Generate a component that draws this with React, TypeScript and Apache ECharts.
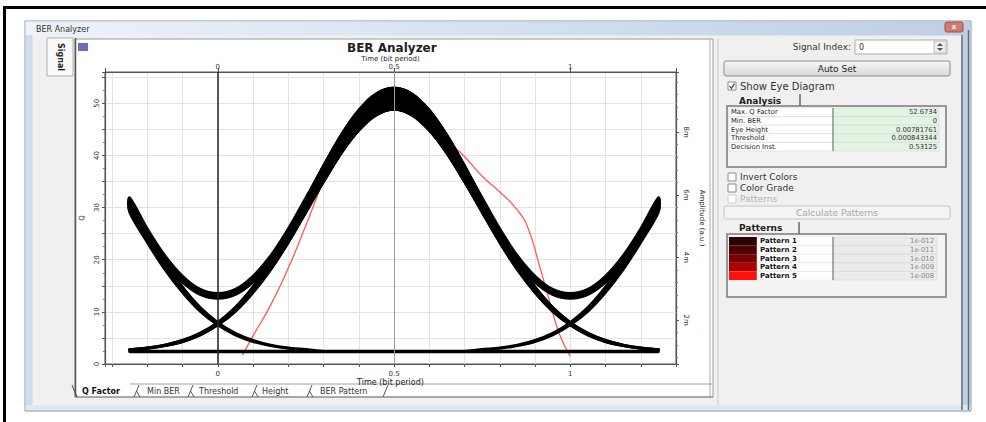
import React, { useEffect, useRef } from "react";
import * as echarts from "echarts";

// ---------- data ----------
const eyeTime = [-0.25, -0.2, -0.15, -0.1, -0.05, 0, 0.05, 0.1, 0.15, 0.2, 0.25, 0.3, 0.35, 0.4, 0.45, 0.5, 0.55, 0.6, 0.65, 0.7, 0.75, 0.8, 0.85, 0.9, 0.95, 1, 1.05, 1.1, 1.15, 1.2, 1.25];

// eye traces (amplitude, right axis); "Hi" = upper edge of band, "Lo" = lower edge
const eye000 = [1, 1, 1, 1, 1, 1, 1, 1, 1, 1, 1, 1, 1, 1, 1, 1, 1, 1, 1, 1, 1, 1, 1, 1, 1, 1, 1, 1, 1, 1, 1];
const eye010Hi = [1.06, 1.11, 1.2, 1.35, 1.58, 1.92, 2.4, 3.05, 3.85, 4.8, 5.84, 6.91, 7.89, 8.69, 9.22, 9.4, 9.22, 8.69, 7.89, 6.91, 5.84, 4.8, 3.85, 3.05, 2.4, 1.92, 1.58, 1.35, 1.2, 1.11, 1.06];
const eye010Lo = [1.05, 1.1, 1.19, 1.32, 1.53, 1.85, 2.29, 2.89, 3.62, 4.49, 5.45, 6.43, 7.34, 8.07, 8.56, 8.73, 8.56, 8.07, 7.34, 6.43, 5.45, 4.49, 3.62, 2.89, 2.29, 1.85, 1.53, 1.32, 1.19, 1.1, 1.05];
const eye110Hi = [5.9, 4.91, 4.05, 3.4, 2.98, 2.85, 2.98, 3.4, 4.05, 4.91, 5.9, 6.91, 7.89, 8.69, 9.22, 9.4, 9.22, 8.69, 7.89, 6.91, 5.84, 4.8, 3.85, 3.05, 2.4, 1.92, 1.58, 1.35, 1.2, 1.11, 1.06];
const eye110Lo = [5.51, 4.59, 3.81, 3.21, 2.82, 2.7, 2.82, 3.21, 3.81, 4.59, 5.51, 6.43, 7.34, 8.07, 8.56, 8.73, 8.56, 8.07, 7.34, 6.43, 5.45, 4.49, 3.62, 2.89, 2.29, 1.85, 1.53, 1.32, 1.19, 1.1, 1.05];
const eye011Hi = [1.06, 1.11, 1.2, 1.35, 1.58, 1.92, 2.4, 3.05, 3.85, 4.8, 5.84, 6.91, 7.89, 8.69, 9.22, 9.4, 9.22, 8.69, 7.89, 6.91, 5.9, 4.91, 4.05, 3.4, 2.98, 2.85, 2.98, 3.4, 4.05, 4.91, 5.9];
const eye011Lo = [1.05, 1.1, 1.19, 1.32, 1.53, 1.85, 2.29, 2.89, 3.62, 4.49, 5.45, 6.43, 7.34, 8.07, 8.56, 8.73, 8.56, 8.07, 7.34, 6.43, 5.51, 4.59, 3.81, 3.21, 2.82, 2.7, 2.82, 3.21, 3.81, 4.59, 5.51];
const eye100Hi = [5.84, 4.8, 3.85, 3.05, 2.4, 1.92, 1.58, 1.35, 1.2, 1.11, 1.06, 1, 1, 1, 1, 1, 1, 1, 1, 1, 1, 1, 1, 1, 1, 1, 1, 1, 1, 1, 1];
const eye100Lo = [5.45, 4.49, 3.62, 2.89, 2.29, 1.85, 1.53, 1.32, 1.19, 1.1, 1.05, 1, 1, 1, 1, 1, 1, 1, 1, 1, 1, 1, 1, 1, 1, 1, 1, 1, 1, 1, 1];
const eye001Hi = [1, 1, 1, 1, 1, 1, 1, 1, 1, 1, 1, 1, 1, 1, 1, 1, 1, 1, 1, 1, 1.06, 1.11, 1.2, 1.35, 1.58, 1.92, 2.4, 3.05, 3.85, 4.8, 5.84];
const eye001Lo = [1, 1, 1, 1, 1, 1, 1, 1, 1, 1, 1, 1, 1, 1, 1, 1, 1, 1, 1, 1, 1.05, 1.1, 1.19, 1.32, 1.53, 1.85, 2.29, 2.89, 3.62, 4.49, 5.45];

// Q factor curve (left axis)
const qTime = [0.07, 0.1, 0.15, 0.2, 0.25, 0.3, 0.35, 0.4, 0.45, 0.5, 0.55, 0.6, 0.65, 0.7, 0.75, 0.8, 0.85, 0.88, 0.91, 0.94, 0.97, 1.0];
const qValue = [1.7, 5.4, 11.3, 18.4, 26.6, 35.2, 42.9, 48.7, 51.9, 52.67, 51.0, 47.5, 43.0, 39.8, 36.0, 33.0, 29.5, 26.1, 19.5, 12.3, 5.6, 1.5];

const markerTimes = [0, 0.5];
const timeTickLabels = [0, 0.5, 1];
const qTickLabels = [0, 10, 20, 30, 40, 50];
const ampTickLabels = [2, 4, 6, 8];

const analysisLabels = ["Max. Q Factor", "Min. BER", "Eye Height", "Threshold", "Decision Inst."];
const analysisValues = ["52.6734", "0", "0.00781761", "0.000843344", "0.53125"];
const patternNames = ["Pattern 1", "Pattern 2", "Pattern 3", "Pattern 4", "Pattern 5"];
const patternValues = ["1e-012", "1e-011", "1e-010", "1e-009", "1e-008"];
const patternColors = ["#2a0000", "#4c0000", "#780000", "#b00000", "#ff1010"];
const bottomTabs = ["Q Factor", "Min BER", "Threshold", "Height", "BER Pattern"];

const FF = '"DejaVu Sans", sans-serif';

const rect = (x: number, y: number, w: number, h: number, fill: any, stroke: any = null, lw = 1, z = -5, r = 0) => ({
  type: "rect", silent: true, z,
  shape: { x, y, width: w, height: h, r },
  style: { fill, stroke, lineWidth: lw },
});
const line = (x1: number, y1: number, x2: number, y2: number, stroke: string, lw = 1, z = -4) => ({
  type: "line", silent: true, z,
  shape: { x1, y1, x2, y2 },
  style: { stroke, lineWidth: lw },
});
const poly = (points: number[][], stroke: string, lw = 1, z = 5) => ({
  type: "polyline", silent: true, z,
  shape: { points },
  style: { stroke, lineWidth: lw, fill: null },
});
const txt = (x: number, y: number, t: string, o: any = {}) => ({
  type: "text", silent: true, z: o.z ?? 10, x, y, rotation: o.rot || 0,
  style: {
    text: t,
    fill: o.fill || "#222",
    font: `${o.bold ? "bold " : ""}${o.size || 8}px ${FF}`,
    textAlign: o.align || "left",
    align: o.align || "left",
    textVerticalAlign: "middle",
    verticalAlign: "middle",
  },
});

function buildGraphics() {
  const g: any[] = [];
  // outer black frame
  g.push(rect(3, 6, 983, 3, "#000", null, 1, -20));
  g.push(rect(3, 6, 3, 416, "#000", null, 1, -20));
  // window
  g.push(rect(25, 21, 946, 390, "#f0f0f0", "#8494a8", 1, -19));
  g.push(rect(25.5, 21.5, 945, 14, new echarts.graphic.LinearGradient(0, 0, 1, 0, [
    { offset: 0, color: "#eef3f9" }, { offset: 1, color: "#bccfe6" },
  ]), null, 1, -18));
  g.push(txt(36, 29, "BER Analyzer", { size: 8, fill: "#333" }));
  g.push(rect(945, 22, 18, 10, "#d07a72", "#a05048", 1, -17, 2));
  g.push(txt(954, 27, "x", { size: 7, fill: "#fff", align: "center", bold: true }));
  g.push(rect(25.5, 35, 7, 375, "#cfdcec", null, 1, -18));
  g.push(rect(962, 35, 8, 375, "#c3d0e0", null, 1, -18));
  g.push(line(962, 35, 962, 410, "#5f6d82", 1.5, -17));
  g.push(line(968.5, 30, 968.5, 410, "#5f6d82", 1.5, -17));
  g.push(rect(25.5, 405, 945, 5, "#dfe7f1", null, 1, -18));
  // left vertical tab
  g.push(rect(47, 38, 26, 38, "#fafafa", "#b0b0b0", 1, -16));
  g.push(txt(60, 57, "Signal", { size: 8, bold: true, rot: -Math.PI / 2, align: "center" }));
  // plot panel
  g.push(rect(75, 39, 638, 358, "#ffffff", "#9a9a9a", 1, -15));
  g.push(line(75.5, 38, 75.5, 397, "#555", 1.5, -14));
  g.push(line(710, 39, 710, 397, "#a8a8a8", 1, -14));
  g.push(rect(78, 43, 10, 8, "#6b6fc4", null, 1, -14));
  // bottom tabs
  g.push(line(130, 384, 712, 384, "#a0a0a0", 1, -14));
  g.push(line(75, 397, 713, 397, "#888", 1, -14));
  g.push(poly([[72, 385], [77, 397]], "#444", 1));
  const tabX = [82, 147, 199, 262, 320];
  const sepX = [137, 191, 255, 310, 386];
  bottomTabs.forEach((t, i) => {
    g.push(txt(tabX[i], 391, t, { size: 8, bold: i === 0, fill: i === 0 ? "#111" : "#333" }));
  });
  sepX.forEach((x, i) => {
    g.push(poly([[x - 3, 397], [x + 2, 385]], "#555", 1));
    if (i < sepX.length - 1) g.push(poly([[x - 0.5, 391], [x + 3, 397]], "#555", 1));
  });
  // right panel
  g.push(line(718, 38, 718, 405, "#c8c8c8", 1, -14));
  g.push(txt(851, 47, "Signal Index:", { size: 9, align: "right", fill: "#333" }));
  g.push(rect(855, 40, 92, 14, "#fff", "#abadb3", 1, -12));
  g.push(txt(859, 47, "0", { size: 8, fill: "#333" }));
  g.push(rect(934, 41, 12, 12, "#ececec", "#c0c0c0", 1, -11));
  g.push({ type: "polygon", silent: true, z: 5, shape: { points: [[937, 46], [943, 46], [940, 43]] }, style: { fill: "#555" } });
  g.push({ type: "polygon", silent: true, z: 5, shape: { points: [[937, 48], [943, 48], [940, 51]] }, style: { fill: "#555" } });
  g.push(rect(724, 61, 226, 15, new echarts.graphic.LinearGradient(0, 0, 0, 1, [
    { offset: 0, color: "#f7f7f7" }, { offset: 1, color: "#d9d9d9" },
  ]), "#8c8c8c", 1, -12, 2));
  g.push(txt(837, 68.5, "Auto Set", { size: 9, align: "center" }));
  // show eye diagram checkbox
  g.push(rect(728, 82, 8, 8, "#fff", "#8a8a8a", 1, -11));
  g.push(poly([[729.5, 86], [731.5, 88.5], [734.5, 83.5]], "#333", 1.2));
  g.push(txt(740, 86.5, "Show Eye Diagram", { size: 10, fill: "#333" }));
  // analysis tab and table
  g.push(txt(739, 100.5, "Analysis", { size: 9, bold: true }));
  g.push(line(800, 94, 800, 106, "#666", 1.5, -11));
  g.push(rect(727, 106, 219, 61, "#f3f3f3", "#7a7a7a", 1.5, -12));
  const rowH = 8.6;
  analysisLabels.forEach((lab, i) => {
    const y = 108 + i * rowH;
    g.push(rect(729, y, 104, rowH, "#fff", "#d0d0d0", 0.5, -11));
    g.push(rect(833, y, 106, rowH, "#e3f4e3", "#d0d0d0", 0.5, -11));
    g.push(txt(731, y + rowH / 2, lab, { size: 6.8, fill: "#222" }));
    g.push(txt(937, y + rowH / 2, analysisValues[i], { size: 6.8, align: "right", fill: "#333" }));
  });
  g.push(line(833, 108, 833, 108 + 5 * rowH, "#666", 1, -10));
  // other checkboxes
  const cb = ["Invert Colors", "Color Grade", "Patterns"];
  cb.forEach((t, i) => {
    const y = 177 + i * 11;
    const dis = i === 2;
    g.push(rect(728, y - 4, 8, 8, "#fff", dis ? "#cfcfcf" : "#8a8a8a", 1, -11));
    g.push(txt(740, y, t, { size: 9, fill: dis ? "#b0b0b0" : "#333" }));
  });
  g.push(rect(724, 206, 226, 13, "#f4f4f4", "#c4c4c4", 1, -12, 2));
  g.push(txt(837, 212.5, "Calculate Patterns", { size: 9, align: "center", fill: "#a8a8a8" }));
  // patterns tab/table
  g.push(txt(739, 228, "Patterns", { size: 9, bold: true }));
  g.push(line(799, 222, 799, 234, "#666", 1.5, -11));
  g.push(rect(727, 234, 219, 63, "#f3f3f3", "#7a7a7a", 1.5, -12));
  patternNames.forEach((n, i) => {
    const y = 237 + i * 8.6;
    g.push(rect(729, y, 28, 8.6, patternColors[i], null, 1, -11));
    g.push(rect(757, y, 76, 8.6, "#fff", "#e0e0e0", 0.5, -11));
    g.push(rect(833, y, 104, 8.6, "#ebebeb", "#d0d0d0", 0.5, -11));
    g.push(txt(760, y + 4.4, n, { size: 7, bold: true, fill: "#111" }));
    g.push(txt(934, y + 4.4, patternValues[i], { size: 6.8, align: "right", fill: "#8a8a8a" }));
  });
  g.push(line(833, 237, 833, 280, "#666", 1, -10));
  return g;
}

const near = (arr: number[], v: number) => arr.find((a) => Math.abs(a - v) < 1e-6);

export default function App() {
  const ref = useRef<HTMLDivElement>(null);
  useEffect(() => {
    if (!ref.current) return;
    const chart = echarts.init(ref.current, undefined, { renderer: "svg" });

    const bands = [
      { k: "010", hi: eye010Hi, lo: eye010Lo },
      { k: "110", hi: eye110Hi, lo: eye110Lo },
      { k: "011", hi: eye011Hi, lo: eye011Lo },
      { k: "100", hi: eye100Hi, lo: eye100Lo },
      { k: "001", hi: eye001Hi, lo: eye001Lo },
    ];
    const eyeSeries: any[] = [];
    eyeSeries.push({
      type: "line", name: "eye000", xAxisIndex: 0, yAxisIndex: 1, silent: true, z: 4,
      data: eyeTime.map((t, i) => [t, eye000[i]]), showSymbol: false, symbol: "none",
      lineStyle: { color: "#000", width: 3.5 },
    });
    bands.forEach((b) => {
      eyeSeries.push({
        type: "custom", name: `eye${b.k}`, coordinateSystem: "cartesian2d", xAxisIndex: 0, yAxisIndex: 1,
        silent: true, z: 4,
        data: eyeTime.map((t, i) => [t, b.hi[i], b.lo[i]]),
        encode: { x: 0, y: [1, 2] },
        renderItem: (params: any, api: any) => {
          if (params.dataIndexInside !== 0) return { type: "group", children: [] };
          const n = eyeTime.length;
          const top: number[][] = [];
          const bot: number[][] = [];
          for (let i = 0; i < n; i++) {
            top.push(api.coord([api.value(0, i), api.value(1, i)]));
            bot.push(api.coord([api.value(0, i), api.value(2, i)]));
          }
          return {
            type: "polygon",
            shape: { points: top.concat(bot.reverse()), smooth: 0.3 },
            style: { fill: "#000", stroke: "#000", lineWidth: 3, lineJoin: "round" },
          };
        },
      });
    });

    const axisFont = { fontFamily: FF, fontSize: 7, color: "#333" };
    const timeFmt = (v: number) => {
      const m = near(timeTickLabels, v);
      return m === undefined ? "" : String(m);
    };

    chart.setOption({
      animation: false,
      textStyle: { fontFamily: FF },
      graphic: { elements: buildGraphics() },
      title: {
        text: "BER Analyzer", left: 347, top: 42, padding: 0,
        textStyle: { fontFamily: FF, fontSize: 12, fontWeight: "bold", color: "#222" },
      },
      grid: {
        left: 105, right: 310, top: 72, bottom: 58, show: true, containLabel: false,
        backgroundColor: "#fff", borderColor: "#555", borderWidth: 1,
      },
      xAxis: [
        {
          type: "value", position: "bottom", min: -0.32, max: 1.3, splitNumber: 16, minInterval: 0.1, maxInterval: 0.1,
          axisLine: { show: true, onZero: false, lineStyle: { color: "#555", width: 1.2 } },
          axisTick: { show: true, length: 3, lineStyle: { color: "#555" } },
          axisLabel: { ...axisFont, margin: 6, formatter: timeFmt },
          splitLine: { show: true, lineStyle: { color: "#e3e3e3", width: 1 } },
          name: "Time (bit period)", nameLocation: "middle", nameGap: 14, nameMoveOverlap: false,
          nameTextStyle: { fontFamily: FF, fontSize: 8, color: "#222" },
        },
        {
          type: "value", position: "top", min: -0.32, max: 1.3, minInterval: 0.5, maxInterval: 0.5,
          axisLine: { show: true, onZero: false, lineStyle: { color: "#555", width: 1.2 } },
          axisTick: { show: true, length: 4, lineStyle: { color: "#555" } },
          axisLabel: { ...axisFont, margin: 2, formatter: timeFmt },
          splitLine: { show: false },
          name: "Time (bit period)", nameLocation: "middle", nameGap: 10, nameMoveOverlap: false,
          nameTextStyle: { fontFamily: FF, fontSize: 7, color: "#222" },
        },
      ],
      yAxis: [
        {
          type: "value", position: "left", min: 0, max: 56, interval: 5,
          axisLine: { show: true, onZero: false, lineStyle: { color: "#555", width: 1.2 } },
          axisTick: { show: true, length: 3, lineStyle: { color: "#555" } },
          minorTick: { show: true, splitNumber: 2, length: 2, lineStyle: { color: "#777" } },
          axisLabel: {
            ...axisFont, rotate: 90, margin: 5,
            formatter: (v: number) => (near(qTickLabels, v) === undefined ? "" : String(v)),
          },
          splitLine: { show: true, lineStyle: { color: "#e3e3e3", width: 1 } },
          name: "Q", nameLocation: "middle", nameGap: 20, nameRotate: 90, nameMoveOverlap: false,
          nameTextStyle: { fontFamily: FF, fontSize: 7, color: "#222" },
        },
        {
          type: "value", position: "right", min: 0.6, max: 9.92, splitNumber: 5, minInterval: 2, maxInterval: 2,
          axisLine: { show: true, onZero: false, lineStyle: { color: "#555", width: 1.2 } },
          axisTick: { show: true, length: 3, lineStyle: { color: "#555" } },
          minorTick: { show: true, splitNumber: 5, length: 2, lineStyle: { color: "#777" } },
          axisLabel: {
            ...axisFont, rotate: -90, margin: 6,
            formatter: (v: number) => (near(ampTickLabels, v) === undefined ? "" : `${v}m`),
          },
          splitLine: { show: false },
          name: "Amplitude (a.u.)", nameLocation: "middle", nameGap: 22, nameRotate: -90, nameMoveOverlap: false,
          nameTextStyle: { fontFamily: FF, fontSize: 7, color: "#222" },
        },
      ],
      series: [
        {
          type: "line", name: "Q Factor", xAxisIndex: 0, yAxisIndex: 0, silent: true, z: 2,
          data: qTime.map((t, i) => [t, qValue[i]]), smooth: true, showSymbol: false, symbol: "none",
          lineStyle: { color: "#ff5a5a", width: 1.3 },
          markLine: {
            silent: true, symbol: ["none", "none"], label: { show: false },
            data: markerTimes.map((t, i) => ({
              xAxis: t,
              lineStyle: i === 0 ? { color: "#222", width: 1.5, type: "solid" } : { color: "#9a9a9a", width: 1, type: "solid" },
            })),
          },
        },
        ...eyeSeries,
      ],
    });
    return () => chart.dispose();
  }, []);
  return <div ref={ref} style={{ position: "fixed", left: 0, top: 0, width: 986, height: 422, background: "#fff" }} />;
}
